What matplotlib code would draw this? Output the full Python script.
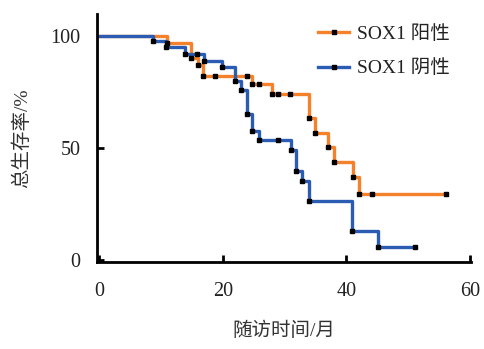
"""SOX1 阳性/阴性 患者总生存 Kaplan-Meier 曲线。"""

import matplotlib
matplotlib.use("Agg")
import matplotlib.pyplot as plt
from matplotlib.lines import Line2D

plt.rcParams["font.family"] = ["Liberation Serif", "Noto Sans CJK SC"]

# 数据：随访时间（月）与总生存率（%），含删失点（生存率不变）
pos_time = [0, 11.0, 14.9, 15.9, 16.8, 18.8, 23.9, 24.8, 25.9, 27.9, 28.9, 30.9,
            33.9, 34.9, 37.0, 38.0, 41.1, 42.0, 44.1, 56.1]
pos_surv = [100, 96.7, 90.3, 87.0, 82.3, 82.3, 82.3, 78.6, 78.6, 74.0, 74.0, 74.0,
            63.3, 56.8, 50.6, 43.9, 37.2, 29.6, 29.6, 29.6]

neg_time = [0, 8.7, 10.8, 13.8, 15.8, 17.0, 19.9, 21.9, 23.0, 23.9, 24.8, 25.9,
            29.0, 31.0, 31.9, 32.9, 33.9, 40.9, 45.1, 51.1]
neg_surv = [100, 97.6, 95.1, 92.0, 92.0, 88.8, 86.2, 80.1, 75.9, 65.2, 57.8, 53.6,
            53.6, 48.9, 39.7, 35.5, 26.3, 12.9, 5.8, 5.8]

labels = ["SOX1 阳性", "SOX1 阴性"]
colors = ["#F5822A", "#2A5CB4"]
x_ticks = [0, 20, 40, 60]
y_ticks = [0, 50, 100]

fig = plt.figure(figsize=(4.85, 3.49), dpi=100)
ax = fig.add_axes([0.2, 0.249, 0.771, 0.711])

for t, s, c in [(pos_time, pos_surv, colors[0]), (neg_time, neg_surv, colors[1])]:
    ax.plot(t, s, drawstyle="steps-post", color=c, linewidth=2.4, zorder=2)
    ax.plot(t[1:], s[1:], linestyle="none", marker="s", markersize=3.2,
            color="black", zorder=3)

ax.set_xlim(-0.4, 60.2)
ax.set_ylim(-0.9, 109.8)
ax.set_xticks(x_ticks)
ax.set_yticks(y_ticks)
ax.tick_params(axis="both", direction="in", length=5, width=2, labelsize=14.5,
               labelcolor="#222222")
ax.tick_params(axis="x", pad=14)
ax.tick_params(axis="y", pad=12)
for side in ["top", "right"]:
    ax.spines[side].set_visible(False)
for side in ["left", "bottom"]:
    ax.spines[side].set_linewidth(2)

ax.set_xlabel("随访时间/月", fontsize=14, color="#333333", labelpad=15)
ax.set_ylabel("总生存率/%", fontsize=14, color="#333333", labelpad=14)

handles = [Line2D([0], [0], color=c, linewidth=2.4, marker="s", markersize=3.2,
                  markerfacecolor="black", markeredgecolor="black") for c in colors]
ax.legend(handles, labels, loc="upper left", bbox_to_anchor=(0.555, 1.01),
          frameon=False, fontsize=14, handlelength=1.6, handletextpad=0.4,
          labelspacing=0.85, borderaxespad=0.3, labelcolor="#222222")

fig.savefig("out.png", dpi=100)
